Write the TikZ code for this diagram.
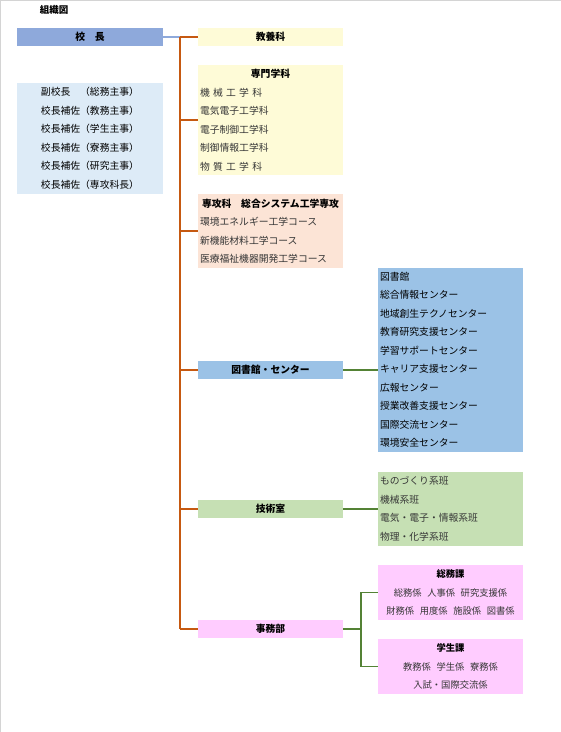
\documentclass[tikz,border=0pt]{standalone}
\usepackage{fontspec}
\setmainfont{Noto Sans CJK JP}
\usetikzlibrary{positioning}
\definecolor{kochoblue}{HTML}{8EA9DB}
\definecolor{paleblue}{HTML}{DDEBF7}
\definecolor{paleyellow}{HTML}{FEFBD7}
\definecolor{salmon}{HTML}{FCE4D6}
\definecolor{midblue}{HTML}{9BC2E6}
\definecolor{palegreen}{HTML}{C6E0B4}
\definecolor{pink}{HTML}{FFCCFF}
\definecolor{trunkorange}{HTML}{C65911}
\definecolor{leafgreen}{HTML}{548235}
\definecolor{itemgray}{HTML}{363636}
\definecolor{edgegray}{HTML}{D4D4D4}
\newcommand\boxhead[1]{\makebox[141pt]{\textcolor{black}{\bfseries #1}}}
\begin{document}
\begin{tikzpicture}[x=1pt, y=-1pt,
    box/.style = {anchor=north west, inner sep=2pt, outer sep=0pt, text=itemgray, font=\fontsize{9.8}{18.5}\selectfont},
    single/.style = {box, minimum width=145pt, minimum height=18pt, align=center, text=black, font=\fontsize{9.8}{11}\selectfont\bfseries},
    list/.style = {box, text width=141pt, align=left},
    centred/.style = {box, text width=141pt, align=center},
    trunk/.style = {line width=1.6pt, trunkorange},
    leaf/.style = {line width=1.6pt, leafgreen}]
    \useasboundingbox (0,0) rectangle (561,732);
    \draw[edgegray, line width=1.4pt] (0.7,732) -- (0.7,0.7) -- (561,0.7);
    \node[font=\fontsize{9.5}{11}\selectfont\bfseries] (title) at (54,10) {組織図};
    % left column
    \node[single, fill=kochoblue, minimum width=146pt] (kocho) at (17,28) {校　長};
    \node[centred, fill=paleblue, text width=142pt, minimum height=111pt, text=black] (fuku) at (17,83)
        {副校長　（総務主事）\\ 校長補佐（教務主事）\\ 校長補佐（学生主事）\\ 校長補佐（寮務主事）\\ 校長補佐（研究主事）\\ 校長補佐（専攻科長）};
    % middle column
    \node[single, fill=paleyellow] (kyoyo) at (198,28) {教養科};
    \node[list, fill=paleyellow, minimum height=110pt] (senmon) at (198,65)
        {\boxhead{専門学科}\\ 機 械 工 学 科\\ 電気電子工学科\\ 電子制御工学科\\ 制御情報工学科\\ 物 質 工 学 科};
    \node[list, fill=salmon, minimum height=74pt] (senkou) at (198,194)
        {\boxhead{専攻科　総合システム工学専攻}\\ 環境エネルギー工学コース\\ 新機能材料工学コース\\ 医療福祉機器開発工学コース};
    \node[single, fill=midblue] (tosho) at (198,361) {図書館・センター};
    \node[single, fill=palegreen] (gijutsu) at (198,500) {技術室};
    \node[single, fill=pink] (jimu) at (198,620) {事務部};
    % right column
    \node[list, fill=midblue, minimum height=184pt, text=black] (centers) at (378,268)
        {図書館\\ 総合情報センター\\ 地域創生テクノセンター\\ 教育研究支援センター\\ 学習サポートセンター\\ キャリア支援センター\\ 広報センター\\ 授業改善支援センター\\ 国際交流センター\\ 環境安全センター};
    \node[list, fill=palegreen, minimum height=74pt] (tech) at (378,472)
        {ものづくり系班\\ 機械系班\\ 電気・電子・情報系班\\ 物理・化学系班};
    \node[centred, fill=pink, minimum height=55pt, font=\fontsize{9.3}{18.5}\selectfont] (somu) at (378,565)
        {\textcolor{black}{\bfseries 総務課}\\ 総務係\hspace{0.6em}人事係\hspace{0.6em}研究支援係\\ 財務係\hspace{0.6em}用度係\hspace{0.6em}施設係\hspace{0.6em}図書係};
    \node[centred, fill=pink, minimum height=55pt, font=\fontsize{9.3}{18.5}\selectfont] (gakusei) at (378,639)
        {\textcolor{black}{\bfseries 学生課}\\ 教務係\hspace{0.6em}学生係\hspace{0.6em}寮務係\\ 入試・国際交流係};
    % connectors
    \coordinate (top) at (180,37);
    \coordinate[right=18pt of jimu.east] (bus);
    \draw[line width=1.6pt, kochoblue] (kocho.east) -- (top);
    \draw[trunk] (top) -- (kyoyo.west);
    \draw[trunk] (top) -- (top |- jimu.west);
    \foreach \n in {senmon, senkou, tosho, gijutsu, jimu}
        \draw[trunk] (top |- \n.west) -- (\n.west);
    \draw[leaf] (tosho.east) -- (tosho.east -| centers.west);
    \draw[leaf] (gijutsu.east) -- (gijutsu.east -| tech.west);
    \draw[leaf] (jimu.east) -- (bus);
    \draw[leaf] (somu.west) -| (bus) |- (gakusei.west);
\end{tikzpicture}
\end{document}
